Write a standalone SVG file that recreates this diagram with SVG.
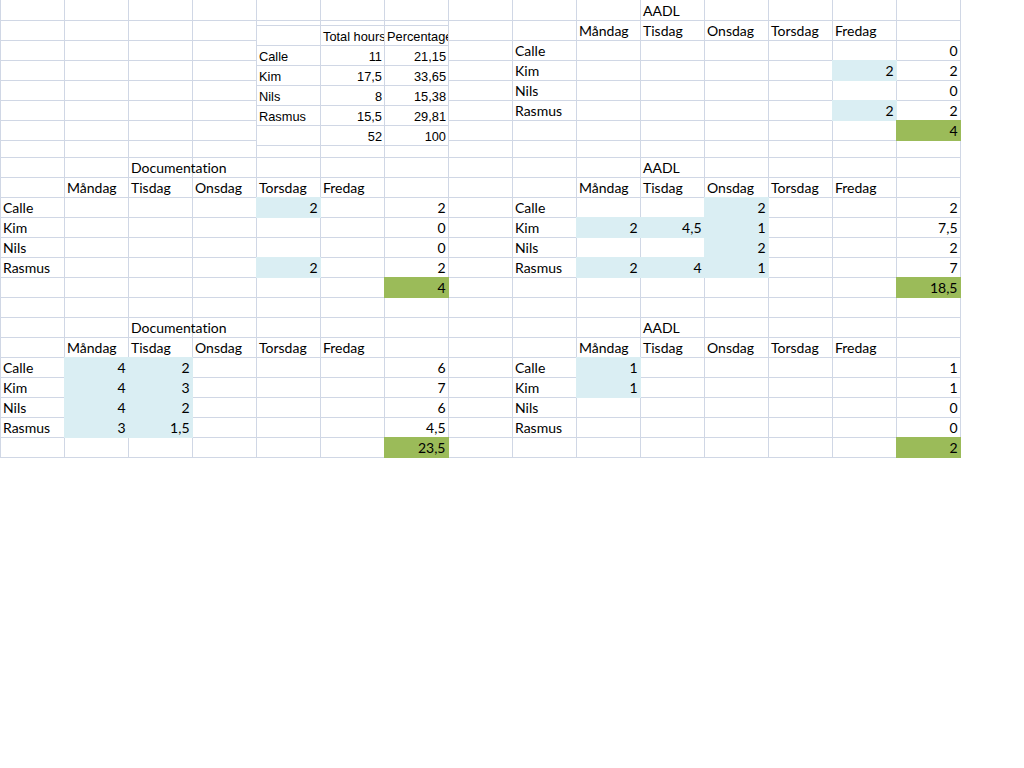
<svg xmlns="http://www.w3.org/2000/svg" width="1024" height="768" viewBox="0 0 1024 768">
<defs>
<style>
.grid{stroke:#D0D7E5;stroke-width:1;fill:none}
.t{font-family:Lato,"Liberation Sans",sans-serif;font-size:14px;fill:#000;font-variant-ligatures:none;font-feature-settings:"liga" 0,"clig" 0}
.r{text-anchor:end}
.e{font-family:"Liberation Sans",Arial,sans-serif;font-size:12.8px;fill:#000}
.blue{fill:#DAEEF3}
.green{fill:#9BBB59}
</style>
<clipPath id="c1"><rect x="321" y="26" width="63" height="19"/></clipPath>
<clipPath id="c2"><rect x="385" y="26" width="63" height="19"/></clipPath>
</defs>
<rect width="1024" height="768" fill="#fff"/>
<g id="grid">
<path class="grid" d="M0.5 0V458M64.5 0V458M128.5 0V458M192.5 0V458M256.5 0V458M320.5 0V458M384.5 0V458M448.5 0V458M512.5 0V458M576.5 0V458M640.5 0V458M704.5 0V458M768.5 0V458M832.5 0V458M896.5 0V458M960.5 0V458"/>
<path class="grid" d="M0 20.5H961M0 40.5H961M0 60.5H961M0 80.5H961M0 100.5H961M0 120.5H961M0 140.5H961M0 157.5H961M0 177.5H961M0 197.5H961M0 217.5H961M0 237.5H961M0 257.5H961M0 277.5H961M0 297.5H961M0 317.5H961M0 337.5H961M0 357.5H961M0 377.5H961M0 397.5H961M0 417.5H961M0 437.5H961M0 457.5H961"/>
</g>
<g id="summary">
<rect x="256" y="25" width="193" height="121" fill="#fff"/>
<path class="grid" d="M256 25.5H449M256 45.5H449M256 65.5H449M256 85.5H449M256 105.5H449M256 125.5H449M256 145.5H449M256.5 25V146M320.5 25V146M384.5 25V146M448.5 25V146"/>
<text class="e" x="323" y="41" clip-path="url(#c1)">Total hours</text>
<text class="e" x="387" y="41" clip-path="url(#c2)">Percentage</text>
<text class="e" x="259" y="61">Calle</text>
<text class="e" x="259" y="81">Kim</text>
<text class="e" x="259" y="101">Nils</text>
<text class="e" x="259" y="121">Rasmus</text>
<g class="e r">
<text x="382" y="61">11</text><text x="446" y="61">21,15</text>
<text x="382" y="81">17,5</text><text x="446" y="81">33,65</text>
<text x="382" y="101">8</text><text x="446" y="101">15,38</text>
<text x="382" y="121">15,5</text><text x="446" y="121">29,81</text>
<text x="382" y="141">52</text><text x="446" y="141">100</text>
</g>
</g>
<g id="aadl-1">
<rect class="blue" x="832" y="60" width="65" height="21"/>
<rect class="blue" x="832" y="100" width="65" height="21"/>
<rect class="green" x="896" y="120" width="65" height="21"/>
<g class="t">
<text x="643" y="16">AADL</text>
<text x="579" y="36">Måndag</text><text x="643" y="36">Tisdag</text><text x="707" y="36">Onsdag</text><text x="771" y="36">Torsdag</text><text x="835" y="36">Fredag</text>
<text x="515" y="56">Calle</text><text x="515" y="76">Kim</text><text x="515" y="96">Nils</text><text x="515" y="116">Rasmus</text>
</g>
<g class="t r">
<text x="893.5" y="76">2</text><text x="893.5" y="116">2</text>
<text x="957.5" y="56">0</text><text x="957.5" y="76">2</text><text x="957.5" y="96">0</text><text x="957.5" y="116">2</text><text x="957.5" y="136">4</text>
</g>
</g>
<g id="documentation-1">
<rect class="blue" x="256" y="197" width="65" height="21"/>
<rect class="blue" x="256" y="257" width="65" height="21"/>
<rect class="green" x="384" y="277" width="65" height="21"/>
<g class="t">
<text x="131" y="173">Documentation</text>
<text x="67" y="193">Måndag</text><text x="131" y="193">Tisdag</text><text x="195" y="193">Onsdag</text><text x="259" y="193">Torsdag</text><text x="323" y="193">Fredag</text>
<text x="3" y="213">Calle</text><text x="3" y="233">Kim</text><text x="3" y="253">Nils</text><text x="3" y="273">Rasmus</text>
</g>
<g class="t r">
<text x="317.5" y="213">2</text><text x="317.5" y="273">2</text>
<text x="445.5" y="213">2</text><text x="445.5" y="233">0</text><text x="445.5" y="253">0</text><text x="445.5" y="273">2</text><text x="445.5" y="293">4</text>
</g>
</g>
<g id="aadl-2">
<rect class="blue" x="704" y="197" width="65" height="21"/>
<rect class="blue" x="576" y="217" width="193" height="21"/>
<rect class="blue" x="704" y="237" width="65" height="21"/>
<rect class="blue" x="576" y="257" width="193" height="21"/>
<rect class="green" x="896" y="277" width="65" height="21"/>
<g class="t">
<text x="643" y="173">AADL</text>
<text x="579" y="193">Måndag</text><text x="643" y="193">Tisdag</text><text x="707" y="193">Onsdag</text><text x="771" y="193">Torsdag</text><text x="835" y="193">Fredag</text>
<text x="515" y="213">Calle</text><text x="515" y="233">Kim</text><text x="515" y="253">Nils</text><text x="515" y="273">Rasmus</text>
</g>
<g class="t r">
<text x="765.5" y="213">2</text>
<text x="637.5" y="233">2</text><text x="701.5" y="233">4,5</text><text x="765.5" y="233">1</text>
<text x="765.5" y="253">2</text>
<text x="637.5" y="273">2</text><text x="701.5" y="273">4</text><text x="765.5" y="273">1</text>
<text x="957.5" y="213">2</text><text x="957.5" y="233">7,5</text><text x="957.5" y="253">2</text><text x="957.5" y="273">7</text><text x="957.5" y="293">18,5</text>
</g>
</g>
<g id="documentation-2">
<rect class="blue" x="64" y="357" width="129" height="81"/>
<rect class="green" x="384" y="437" width="65" height="21"/>
<g class="t">
<text x="131" y="333">Documentation</text>
<text x="67" y="353">Måndag</text><text x="131" y="353">Tisdag</text><text x="195" y="353">Onsdag</text><text x="259" y="353">Torsdag</text><text x="323" y="353">Fredag</text>
<text x="3" y="373">Calle</text><text x="3" y="393">Kim</text><text x="3" y="413">Nils</text><text x="3" y="433">Rasmus</text>
</g>
<g class="t r">
<text x="125.5" y="373">4</text><text x="189.5" y="373">2</text>
<text x="125.5" y="393">4</text><text x="189.5" y="393">3</text>
<text x="125.5" y="413">4</text><text x="189.5" y="413">2</text>
<text x="125.5" y="433">3</text><text x="189.5" y="433">1,5</text>
<text x="445.5" y="373">6</text><text x="445.5" y="393">7</text><text x="445.5" y="413">6</text><text x="445.5" y="433">4,5</text><text x="445.5" y="453">23,5</text>
</g>
</g>
<g id="aadl-3">
<rect class="blue" x="576" y="357" width="65" height="41"/>
<rect class="green" x="896" y="437" width="65" height="21"/>
<g class="t">
<text x="643" y="333">AADL</text>
<text x="579" y="353">Måndag</text><text x="643" y="353">Tisdag</text><text x="707" y="353">Onsdag</text><text x="771" y="353">Torsdag</text><text x="835" y="353">Fredag</text>
<text x="515" y="373">Calle</text><text x="515" y="393">Kim</text><text x="515" y="413">Nils</text><text x="515" y="433">Rasmus</text>
</g>
<g class="t r">
<text x="637.5" y="373">1</text><text x="637.5" y="393">1</text>
<text x="957.5" y="373">1</text><text x="957.5" y="393">1</text><text x="957.5" y="413">0</text><text x="957.5" y="433">0</text><text x="957.5" y="453">2</text>
</g>
</g>
</svg>
